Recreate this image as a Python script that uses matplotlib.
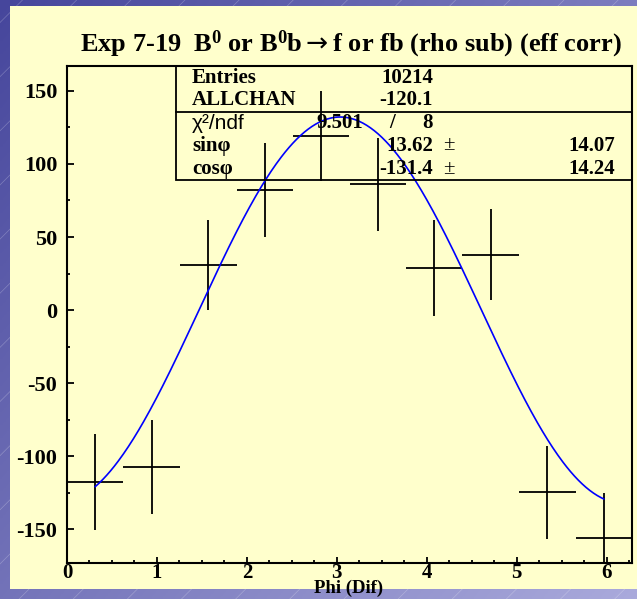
import numpy as np
import matplotlib
matplotlib.use("Agg")
import matplotlib.pyplot as plt
from matplotlib.patches import Rectangle
from matplotlib.ticker import MultipleLocator

# ---- data: 10 bins over [0, 2*pi] ----
bin_centers = [0.314, 0.942, 1.571, 2.199, 2.827, 3.456, 4.084, 4.712, 5.341, 5.969]
bin_half_width = 0.314
counts = [-117.5, -107.5, 30.8, 82.0, 119.0, 86.0, 28.8, 38.0, -124.7, -156.0]
count_errors = [33.0, 32.0, 31.0, 32.0, 31.0, 31.6, 33.0, 31.0, 32.0, 31.0]

# fit p0*sin(phi) + p1*cos(phi)
fit_sin = 13.62
fit_cos = -131.4
fit_sin_err = 14.07
fit_cos_err = 14.24
chi2 = 9.501
ndf = 8
entries = 10214
allchan = -120.1

title = "Exp 7-19  B$^{0}$ or B$^{0}$b$\\mathsf{\\rightarrow}$f or fb (rho sub) (eff corr)"
xlabel = "Phi (Dif)"

W, H = 637, 599
fig = plt.figure(figsize=(W / 100, H / 100), dpi=100)

plt.rcParams['axes.unicode_minus'] = False
plt.rcParams['mathtext.fontset'] = 'custom'
plt.rcParams['mathtext.rm'] = 'Liberation Serif:bold'
plt.rcParams['mathtext.bf'] = 'Liberation Serif:bold'
plt.rcParams['mathtext.it'] = 'Liberation Serif:bold'
plt.rcParams['mathtext.sf'] = 'DejaVu Sans'

serif = ['Liberation Serif', 'DejaVu Serif']


def fx(px):
    return px / W


def fy(py):
    return 1 - py / H


# ---- slide-style background: blue gradient with diagonal hairlines ----
bg = fig.add_axes([0, 0, 1, 1])
bg.set_axis_off()
gx, gy = np.meshgrid(np.linspace(0, 1, 200), np.linspace(0, 1, 200))
t = 0.55 * gx + 0.45 * gy
c0 = np.array([0x46, 0x46, 0x9c]) / 255
c1 = np.array([0xaa, 0xaa, 0xdc]) / 255
img = c0[None, None, :] * (1 - t[..., None]) + c1[None, None, :] * t[..., None]
bg.imshow(img, extent=[0, 1, 0, 1], origin='upper', aspect='auto')
for k in np.arange(-1.5, 1.6, 0.085):
    bg.plot([k, k + 1.0], [0, 1.0 * W / H], color='white', lw=0.5, alpha=0.25)
bg.set_xlim(0, 1)
bg.set_ylim(0, 1)
bg.add_patch(Rectangle((fx(10), fy(589)), 1 - fx(10), fy(6) - fy(589),
                       facecolor='#ffffcc', edgecolor='none', zorder=5))

# ---- main axes ----
ax = fig.add_axes([fx(67), fy(563), fx(632) - fx(67), fy(66) - fy(563)])
ax.set_facecolor('none')
ax.set_xlim(0, 2 * np.pi)
ax.set_ylim(-173, 167)

ax.errorbar(bin_centers, counts, yerr=count_errors, xerr=bin_half_width,
            fmt='none', ecolor='black', elinewidth=1.3, capsize=0, zorder=3)

phi = np.linspace(bin_centers[0], bin_centers[-1], 400)
ax.plot(phi, fit_sin * np.sin(phi) + fit_cos * np.cos(phi), color='#0000ff', lw=1.2, zorder=4)

for s in ax.spines.values():
    s.set_linewidth(1.5)
ax.xaxis.set_major_locator(MultipleLocator(1))
ax.xaxis.set_minor_locator(MultipleLocator(0.25))
ax.yaxis.set_major_locator(MultipleLocator(50))
ax.yaxis.set_minor_locator(MultipleLocator(25))
ax.tick_params(axis='both', which='both', direction='in', top=False, right=False, width=1.3)
ax.tick_params(axis='y', which='major', length=5, pad=7)
ax.tick_params(axis='y', which='minor', length=2.5)
ax.tick_params(axis='x', which='major', length=4, pad=0)
ax.tick_params(axis='x', which='minor', length=2)
for lab in ax.get_yticklabels():
    lab.set_fontfamily(serif)
    lab.set_fontweight('bold')
    lab.set_fontsize(16)
for lab in ax.get_xticklabels():
    lab.set_fontfamily(serif)
    lab.set_fontweight('bold')
    lab.set_fontsize(15)

# ---- title and axis label ----
fig.text(fx(351), fy(44), title, ha='center', va='center', fontsize=19,
         fontfamily=serif, fontweight='bold')
fig.text(fx(349), fy(588.5), xlabel, ha='center', va='center', fontsize=13.5,
         fontfamily=serif, fontweight='bold')

# ---- statistics box ----
box_l, box_r, box_t, box_b, box_sep = 176, 632, 66, 180, 112
fig.add_artist(Rectangle((fx(box_l), fy(box_b)), fx(box_r) - fx(box_l), fy(box_t) - fy(box_b),
                         transform=fig.transFigure, facecolor='none', edgecolor='black', lw=1.3, zorder=6))
fig.add_artist(plt.Line2D([fx(box_l), fx(box_r)], [fy(box_sep), fy(box_sep)],
                          transform=fig.transFigure, color='black', lw=1.3, zorder=6))

kw = dict(fontsize=15, fontfamily=serif, fontweight='bold', va='center')
pm = dict(fontsize=15, fontfamily=serif, va='center', ha='left')
rows = [78, 100, 123, 146, 169]
fig.text(fx(192), fy(rows[0]), "Entries", ha='left', **kw)
fig.text(fx(433), fy(rows[0]), f"{entries}", ha='right', **kw)
fig.text(fx(192), fy(rows[1]), "ALLCHAN", ha='left', **kw)
fig.text(fx(433), fy(rows[1]), f"{allchan:.1f}", ha='right', **kw)
fig.text(fx(192), fy(rows[2]), "\u03c7\u00b2/ndf", ha='left', fontsize=15,
         fontfamily=['Liberation Sans', 'DejaVu Sans'], va='center')
fig.text(fx(363), fy(rows[2]), f"{chi2:.3f}", ha='right', **kw)
fig.text(fx(392), fy(rows[2]), "/", ha='center', **kw)
fig.text(fx(433), fy(rows[2]), f"{ndf}", ha='right', **kw)
fig.text(fx(192), fy(rows[3]), "sin\u03c6", ha='left', **kw)
fig.text(fx(433), fy(rows[3]), f"{fit_sin:.2f}", ha='right', **kw)
fig.text(fx(443), fy(rows[3]), "\u00b1", **pm)
fig.text(fx(615), fy(rows[3]), f"{fit_sin_err:.2f}", ha='right', **kw)
fig.text(fx(192), fy(rows[4]), "cos\u03c6", ha='left', **kw)
fig.text(fx(433), fy(rows[4]), f"{fit_cos:.1f}", ha='right', **kw)
fig.text(fx(443), fy(rows[4]), "\u00b1", **pm)
fig.text(fx(615), fy(rows[4]), f"{fit_cos_err:.2f}", ha='right', **kw)

fig.savefig("out.png", dpi=100)
